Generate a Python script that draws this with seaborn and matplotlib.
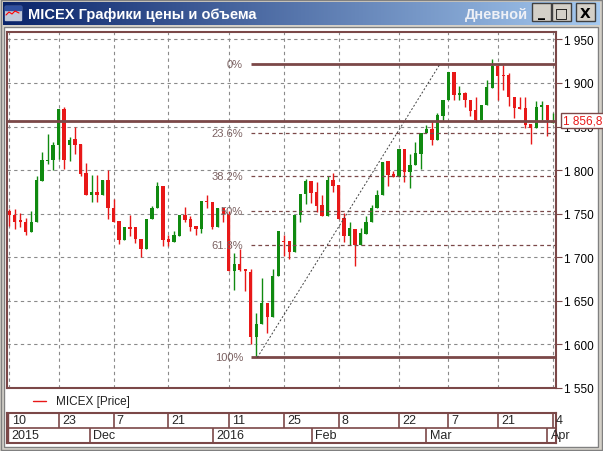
import numpy as np
import matplotlib
matplotlib.use("Agg")
import matplotlib.pyplot as plt
from matplotlib.patches import Rectangle
import seaborn as sns

sns.set_style("white")
plt.rcParams['font.family'] = ['Liberation Sans', 'DejaVu Sans']

opens  = [1753,1748,1743,1741,1729,1741,1788,1811,1812,1829,1870,1829,1836,1830,1797,1771,1775,1771,1789,1757,
          1742,1720,1735,1735,1721,1710,1744,1756,1782,1721,1718,1724,1749,1744,1736,1732,1765,1763,1735,1756,
          1750,1684,1692,1686,1683,1609,1624,1647,1632,1678,1719,1719,1706,1748,1773,1788,1775,1760,1747,1789,
          1783,1745,1724,1733,1714,1727,1740,1756,1771,1810,1795,1792,1824,1798,1806,1818,1843,1847,1835,1862,
          1881,1913,1886,1888,1880,1869,1857,1875,1894,1919,1909,1909,1884,1872,1871,1853,1848,1872,1875,1854]
highs  = [1755,1755,1751,1745,1753,1793,1821,1842,1832,1870,1873,1838,1850,1830,1808,1794,1794,1789,1800,1767,
          1742,1735,1748,1735,1721,1744,1759,1786,1782,1726,1730,1749,1758,1747,1736,1765,1771,1763,1756,1756,
          1753,1705,1710,1686,1687,1636,1676,1647,1686,1730,1726,1719,1749,1773,1790,1788,1786,1771,1793,1797,
          1783,1751,1741,1733,1734,1747,1760,1777,1809,1810,1799,1824,1824,1819,1832,1843,1852,1856,1866,1881,
          1913,1913,1897,1890,1880,1884,1875,1903,1927,1921,1921,1911,1884,1884,1884,1853,1879,1879,1875,1866]
lows   = [1736,1733,1735,1725,1729,1741,1788,1807,1800,1813,1801,1810,1818,1793,1771,1764,1763,1771,1744,1741,
          1715,1720,1724,1716,1700,1710,1744,1756,1713,1713,1718,1724,1740,1730,1725,1728,1757,1733,1735,1740,
          1684,1662,1684,1661,1601,1585,1624,1613,1632,1678,1702,1698,1706,1741,1761,1762,1752,1747,1747,1775,
          1744,1717,1714,1690,1714,1727,1740,1756,1771,1782,1792,1792,1786,1779,1806,1801,1843,1829,1835,1856,
          1881,1880,1880,1872,1862,1855,1857,1875,1894,1880,1892,1874,1860,1870,1848,1830,1848,1857,1839,1854]
closes = [1748,1741,1740,1729,1741,1789,1812,1812,1829,1870,1812,1835,1829,1796,1771,1775,1771,1789,1757,1741,
          1720,1735,1733,1721,1710,1744,1756,1782,1720,1718,1725,1749,1743,1735,1732,1765,1763,1735,1756,1750,
          1684,1692,1685,1684,1609,1624,1647,1632,1679,1730,1717,1706,1749,1773,1788,1774,1759,1747,1789,1782,
          1744,1724,1734,1714,1728,1740,1757,1772,1809,1794,1792,1824,1798,1806,1820,1843,1847,1835,1863,1881,
          1913,1886,1888,1880,1868,1857,1875,1895,1919,1908,1908,1884,1871,1870,1852,1848,1872,1875,1857,1856.8]

day_ticks = [0, 9, 19, 29, 40, 50, 60, 71, 80, 89, 99]
day_labels = ["10", "23", "7", "21", "11", "25", "8", "22", "7", "21", "4"]
month_bounds = [-0.3, 14.7, 37.1, 55.1, 76.0, 98.0]
month_labels = ["2015", "Dec", "2016", "Feb", "Mar", "Apr"]
y_ticks = [1550, 1600, 1650, 1700, 1750, 1800, 1850, 1900, 1950]
fib_levels = [0.0, 23.6, 38.2, 50.0, 61.8, 100.0]
fib_high, fib_low = 1922, 1585
last_price = 1856.8

BROWN = '#7b4848'
GREEN = '#108a10'
RED = '#e81818'

fig = plt.figure(figsize=(6.03, 4.52), dpi=100)
W, H = 603, 452
bg = fig.add_axes([0, 0, 1, 1])
bg.set_xlim(0, W); bg.set_ylim(H, 0); bg.axis('off')
bg.add_patch(Rectangle((0, 0), W, H, color='#d4d0c8'))
bg.add_patch(Rectangle((1, 1), W - 2, H - 2, fill=False, ec='#808080', lw=1))
grad = np.linspace(0, 1, 300)[None, :, None]
c1 = np.array([10, 36, 106]) / 255; c2 = np.array([166, 202, 240]) / 255
img = c1 + (c2 - c1) * grad
bg.imshow(img, extent=(3, 600, 26, 3), aspect='auto', zorder=1)
bg.add_patch(Rectangle((5, 7), 16, 14, color='#c0c8d8', zorder=2))
bg.add_patch(Rectangle((5, 7), 16, 4, color='#3050a0', zorder=2))
bg.plot([6, 9, 12, 15, 19], [16, 13, 15, 12, 14], color='red', lw=0.8, zorder=3)
bg.text(28, 14.5, "MICEX Графики цены и объема", color='white', fontsize=10.5,
        fontweight='bold', va='center', ha='left', zorder=3)
bg.text(528, 14.5, "Дневной", color='#eef0f6', fontsize=10.5, fontweight='bold',
        va='center', ha='right', zorder=3)
for bx, g in [(532, '_'), (552, '□'), (576, 'X')]:
    bg.add_patch(Rectangle((bx, 4), 19, 18, fc='#d4d0c8', ec='#404040', lw=1, zorder=3))
    bg.text(bx + 9.5, 13.5, g, fontsize=10, fontweight='bold', ha='center', va='center',
            color='black', zorder=4, family=['DejaVu Sans'])
bg.add_patch(Rectangle((4, 28), 594, 420, color='white', zorder=1))
bg.add_patch(Rectangle((4, 28), 594, 420, fill=False, ec='#808080', lw=1, zorder=2))
# legend
bg.plot([33, 46], [402, 402], color=RED, lw=1, zorder=3)
bg.text(56, 402, "MICEX [Price]", fontsize=8.5, va='center', ha='left', color='#202020', zorder=3)

# main axes
ax = fig.add_axes([7 / W, 1 - 389 / H, 549 / W, 356 / H])
ax.set_facecolor('white')
x = np.arange(len(opens))
o = np.array(opens, float); c = np.array(closes, float)
cols = [GREEN if cc >= oo else RED for oo, cc in zip(o, c)]
ax.vlines(x, lows, highs, colors=cols, lw=1, zorder=3)
ax.bar(x, np.maximum(np.abs(c - o), 1.0), bottom=np.minimum(o, c), width=0.6,
       color=cols, lw=0, zorder=4)
ax.set_xlim(-0.4, 99.6)
ax.set_ylim(1550, 1958.5)
ax.set_xticks(day_ticks); ax.set_xticklabels([])
ax.tick_params(axis='x', length=0)
ax.yaxis.tick_right()
ax.set_yticks(y_ticks)
ax.set_yticklabels([f"{v // 1000} {v % 1000:03d}" for v in y_ticks], fontsize=8.5)
ax.tick_params(axis='y', direction='out', length=4, color=BROWN, pad=2, labelcolor='black')
ax.grid(True, color='#8a8a8a', lw=0.8, linestyle=(0, (3, 3)))
for s in ax.spines.values():
    s.set_color(BROWN); s.set_linewidth(1.5)

# fibonacci
rng = fib_high - fib_low
for lv in fib_levels:
    yv = fib_high - rng * lv / 100
    if lv in (0.0, 100.0):
        ax.hlines(yv, 44.1, 99.6, color=BROWN, lw=2, zorder=5)
    else:
        ax.hlines(yv, 44.1, 99.6, color=BROWN, lw=0.9, linestyles=(0, (3, 2.5)), zorder=5)
    ax.text(42.6, yv, f"{lv:g}%", ha='right', va='center', fontsize=8, color='#7a6060', zorder=6)
sns.lineplot(x=[45.2, 78.5], y=[fib_low, fib_high], ax=ax, color='#404040', lw=0.7,
             linestyle=(0, (2, 2)), zorder=5)
ax.axhline(last_price, color=BROWN, lw=2, zorder=5)
ax.text(1.013, last_price, "1 856,8", transform=ax.get_yaxis_transform(), clip_on=False,
        color=RED, fontsize=8.5, va='center', ha='left', zorder=10,
        bbox=dict(boxstyle='square,pad=0.15', fc='white', ec=BROWN, lw=1))

# date axis
dx = fig.add_axes([7 / W, 1 - 444 / H, 549 / W, 30 / H])
dx.set_xlim(-0.4, 99.6); dx.set_ylim(0, 2)
dx.set_xticks([]); dx.set_yticks([])
for s in dx.spines.values():
    s.set_color(BROWN); s.set_linewidth(1.5)
dx.axhline(1, color=BROWN, lw=1.2)
for t, lab in zip(day_ticks, day_labels):
    if t > 0:
        dx.vlines(t, 1, 2, color=BROWN, lw=1.2)
    dx.text(t + 0.6, 1.5, lab, fontsize=9, va='center', ha='left')
for b, lab in zip(month_bounds, month_labels):
    if b > 0:
        dx.vlines(b, 0, 1, color=BROWN, lw=1.2)
    dx.text(b + 0.6, 0.5, lab, fontsize=9, va='center', ha='left')
dx.axvline(-0.3, color=BROWN, lw=1)

fig.savefig("out.png", dpi=100)
